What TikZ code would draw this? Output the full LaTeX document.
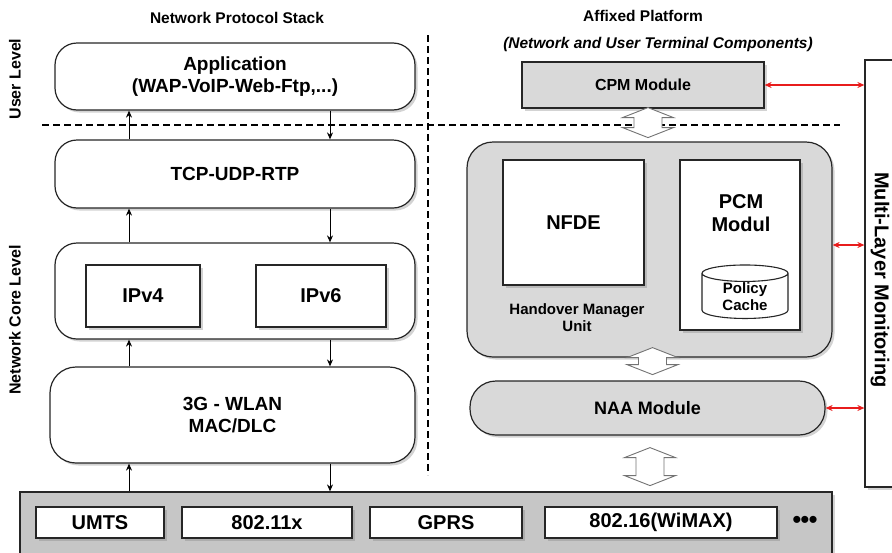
\documentclass[tikz,border=0pt]{standalone}
\usepackage{fontspec}
\setmainfont{Liberation Sans}
\usetikzlibrary{shapes.geometric,shadows,arrows.meta,calc}
\definecolor{boxgray}{RGB}{217,217,217}
\definecolor{bargray}{RGB}{198,198,198}
\definecolor{linkred}{RGB}{232,28,28}

\tikzset{
  shade/.style={drop shadow={opacity=0.35,shadow xshift=2.5pt,shadow yshift=-2.5pt}},
  layer/.style={draw=black!85,line width=1.2pt,rounded corners=22pt,fill=white,shade,font=\bfseries\fontsize{19}{22}\selectfont,align=center},
  plainbox/.style={draw=black!85,line width=1.1pt,fill=white,shade,font=\bfseries\fontsize{20}{23}\selectfont,align=center},
  techbox/.style={draw=black!85,line width=1.1pt,fill=white,shade,minimum height=31pt,font=\bfseries\fontsize{20}{22}\selectfont},
  title/.style={font=\bfseries\fontsize{15.5}{18}\selectfont},
  hollowline/.style={draw=black!55,fill=white,line width=0.9pt,line join=miter},
  link/.style={linkred,line width=1.4pt,{Stealth[length=7pt,width=6pt]}-{Stealth[length=7pt,width=6pt]}},
  flow/.style={line width=1pt,-{Stealth[length=7pt,width=6pt]}}
}

% wide hollow two-way arrow: #1 top point, #2 shaft length
\newcommand{\hollowarrow}[2]{%
  \draw[hollowline] (#1) -- ++(25.5,10) -- ++(-11.5,0) -- ++(0,#2) -- ++(11.5,0)
    -- ++(-25.5,10) -- ++(-25.5,-10) -- ++(11.5,0) -- ++(0,-#2) -- ++(-11.5,0) -- cycle;}

\begin{document}
\begin{tikzpicture}[x=1pt,y=-1pt]
\useasboundingbox (0,0) rectangle (892,552);

% titles and level labels
\node[title] (stacktitle) at (237,18) {Network Protocol Stack};
\node[title] (afftitle) at (643,16) {Affixed Platform};
\node[font=\bfseries\itshape\fontsize{15.5}{18}\selectfont] (affsub) at (658,44) {(Network and User Terminal Components)};
\node[rotate=90,font=\bfseries\fontsize{16}{18}\selectfont] (userlvl) at (15,79) {User Level};
\node[rotate=90,font=\bfseries\fontsize{16}{18}\selectfont] (corelvl) at (15,320) {Network Core Level};

% dashed separators
\coordinate (vtop) at (428,35);
\coordinate (vbot) at (428,475);
\coordinate (hleft) at (42,125);
\coordinate (hright) at (840,125);
\draw[line width=1.4pt,dash pattern=on 7pt off 4pt] (vtop) -- (vbot);
\draw[line width=1.4pt,dash pattern=on 7pt off 4pt] (hleft) -- (hright);

% protocol stack
\node[layer,minimum width=360pt,minimum height=67pt] (app) at (235,76.5) {Application\\(WAP-VoIP-Web-Ftp,...)};
\node[layer,minimum width=360pt,minimum height=68pt] (tcp) at (235,174) {TCP-UDP-RTP};
\node[layer,minimum width=360pt,minimum height=96pt] (ip) at (235,291) {};
\node[plainbox,minimum width=114pt,minimum height=62pt] (ipv4) at (143,296) {IPv4};
\node[plainbox,minimum width=130pt,minimum height=62pt] (ipv6) at (321,296) {IPv6};
\node[layer,rounded corners=26pt,minimum width=365pt,minimum height=96pt] (mac) at (232.5,415) {3G - WLAN\\MAC/DLC};

% access technologies
\node[draw=black!85,line width=1.2pt,fill=bargray,shade,minimum width=812pt,minimum height=66pt] (bar) at (426,525) {};
\node[techbox,minimum width=128pt] (umts) at (100,522.5) {UMTS};
\node[techbox,minimum width=170pt] (wifi) at (267,522.5) {802.11x};
\node[techbox,minimum width=152pt] (gprs) at (446,522.5) {GPRS};
\node[techbox,minimum width=232pt] (wimax) at (661,522.5) {802.16(WiMAX)};
\node[font=\fontsize{26}{26}\selectfont,inner sep=0pt] (more) at (805,522) {\textbullet\kern-1pt\textbullet\kern-1pt\textbullet};

% up / down flows
\coordinate (upx) at (129,0);
\coordinate (dnx) at (330,0);
\draw[flow] (tcp.north -| upx) -- (app.south -| upx);
\draw[flow] (app.south -| dnx) -- (tcp.north -| dnx);
\draw[flow] (ip.north -| upx) -- (tcp.south -| upx);
\draw[flow] (tcp.south -| dnx) -- (ip.north -| dnx);
\draw[flow] (mac.north -| upx) -- (ip.south -| upx);
\draw[flow] (ip.south -| dnx) -- (mac.north -| dnx);
\draw[flow] (bar.north -| upx) -- (mac.south -| upx);
\draw[flow] (mac.south -| dnx) -- (bar.north -| dnx);

% affixed platform
\node[draw=black!85,line width=1.2pt,fill=boxgray,shade,minimum width=242pt,minimum height=46pt,font=\bfseries\fontsize{16}{18}\selectfont] (cpm) at (643,85) {CPM Module};
\node[draw=black!85,line width=1.2pt,fill=boxgray,shade,rounded corners=26pt,minimum width=365pt,minimum height=215pt] (hmu) at (649.5,249.5) {};
\node[plainbox,minimum width=141pt,minimum height=125pt] (nfde) at (573.5,222.5) {NFDE};
\node[plainbox,minimum width=120pt,minimum height=170pt] (pcm) at (740,245) {};
\node[font=\bfseries\fontsize{20}{23}\selectfont,align=center] (pcmtxt) at (741,213) {PCM\\Modul};
\node[cylinder,shape border rotate=90,draw=black!85,line width=1.1pt,fill=white,aspect=0.35,
  minimum width=86pt,minimum height=49pt,inner sep=1pt,align=center,
  font=\bfseries\fontsize{15}{17}\selectfont] (cache) at (745,297) {Policy\\Cache};
\node[font=\bfseries\fontsize{15}{17}\selectfont,align=center] (hmutxt) at (577,318) {Handover Manager\\Unit};
\node[draw=black!85,line width=1.2pt,fill=boxgray,shade,rounded corners=26pt,minimum width=355pt,minimum height=54pt,font=\bfseries\fontsize{18}{20}\selectfont] (naa) at (647.5,408) {NAA Module};

% multi-layer monitoring
\node[draw=black!85,line width=1.2pt,fill=white,shade,minimum width=40pt,minimum height=427pt] (mlm) at (885,273.5) {};
\node[rotate=-90,font=\bfseries\fontsize{20}{22}\selectfont] (mlmtxt) at (880,280) {Multi-Layer Monitoring};

% hollow arrows between modules
\coordinate (h1) at ($(cpm.south)+(5,-1)$);
\coordinate (h2) at ($(hmu.south)+(3,-10)$);
\coordinate (h3) at ($(naa.south)+(2.5,12)$);
\hollowarrow{h1}{10}
\hollowarrow{h2}{7}
\hollowarrow{h3}{18}

% monitoring links
\draw[link] (cpm.east) -- (mlm.west |- cpm.east);
\draw[link] (hmu.east |- pcm) -- (mlm.west |- pcm);
\draw[link] (naa.east) -- (mlm.west |- naa.east);
\end{tikzpicture}
\end{document}
